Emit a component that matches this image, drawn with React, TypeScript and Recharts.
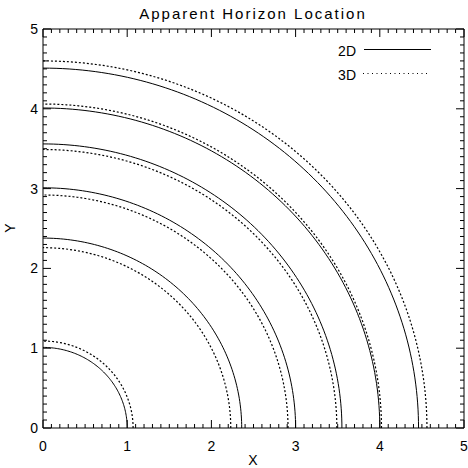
import { LineChart, Line, XAxis, YAxis, Customized } from "recharts";

const FONT = "'Liberation Sans', Arial, sans-serif";

const TITLE = "Apparent Horizon Location";
// every 0.1 gets a small inward tick, whole numbers get a long one and a label
const AXIS_TICKS = Array.from({ length: 51 }, (_, i) => i / 10);

// horizon extent along x and along y, one entry per run
const radius2dX = [1.0, 2.36, 3.0, 3.55, 4.0, 4.46];
const radius2dY = [1.01, 2.38, 3.01, 3.56, 4.01, 4.51];
const radius3dX = [1.07, 2.23, 2.91, 3.49, 4.02, 4.56];
const radius3dY = [1.09, 2.26, 2.92, 3.49, 4.06, 4.6];

const LEGEND = ["2D", "3D"];

// quarter-arc sampled every degree
const ANGLES = Array.from({ length: 91 }, (_, i) => (i * Math.PI) / 180);
const arc = (rx: number, ry: number) =>
  ANGLES.map((a) => ({ x: rx * Math.cos(a), y: ry * Math.sin(a) }));

const curves2d = radius2dX.map((rx, i) => arc(rx, radius2dY[i]));
const curves3d = radius3dX.map((rx, i) => arc(rx, radius3dY[i]));

const DOTS = "2 2";
const MAJOR = 8;
const MINOR = 4;

const isWhole = (v: number) => Math.abs(v - Math.round(v)) < 1e-6;

// draws the tick mark pointing into the plot, plus the label on bottom/left
const FrameTick = (props: any) => {
  const { x, y, payload, side } = props;
  const v = payload.value;
  const whole = isWhole(v);
  const len = whole ? MAJOR : MINOR;
  const label = whole ? String(Math.round(v)) : null;
  if (side === "bottom")
    return (
      <g>
        <line x1={x} x2={x} y1={y} y2={y - len} stroke="#000" />
        {label && (
          <text x={x} y={y + 23} textAnchor="middle" fontSize={14} fontFamily={FONT} fill="#000">
            {label}
          </text>
        )}
      </g>
    );
  if (side === "top")
    return <line x1={x} x2={x} y1={y} y2={y + len} stroke="#000" />;
  if (side === "left")
    return (
      <g>
        <line x1={x} x2={x + len} y1={y} y2={y} stroke="#000" />
        {label && (
          <text x={x - 5} y={y} dy="0.36em" textAnchor="end" fontSize={14} fontFamily={FONT} fill="#000">
            {label}
          </text>
        )}
      </g>
    );
  return <line x1={x} x2={x - len} y1={y} y2={y} stroke="#000" />;
};

const Annotations = () => (
  <g fontFamily={FONT} fill="#000">
    <text x={253} y={19} textAnchor="middle" fontSize={15} letterSpacing={2}>
      {TITLE}
    </text>
    <text x={253} y={465} textAnchor="middle" fontSize={14}>
      X
    </text>
    <text
      x={15}
      y={228}
      textAnchor="middle"
      fontSize={14}
      transform="rotate(-90 15 228)"
    >
      Y
    </text>
    <text x={356} y={56} textAnchor="end" fontSize={14}>
      {LEGEND[0]}
    </text>
    <line x1={364} x2={431} y1={49.5} y2={49.5} stroke="#000" />
    <text x={356} y={80} textAnchor="end" fontSize={14}>
      {LEGEND[1]}
    </text>
    <line
      x1={363}
      x2={430}
      y1={73.5}
      y2={73.5}
      stroke="#000"
      strokeDasharray="1 3.5"
    />
  </g>
);

const axisCommon = {
  type: "number" as const,
  domain: [0, 5] as [number, number],
  allowDataOverflow: true,
  ticks: AXIS_TICKS,
  interval: 0 as const,
  tickSize: 0,
  tickMargin: 0,
  tickLine: false,
  stroke: "#000",
};

export default function App() {
  return (
    <div style={{ position: "absolute", left: 0, top: 0, background: "#fff" }}>
      <LineChart
        width={468}
        height={468}
        margin={{ top: 28, right: 3, bottom: 39, left: 42 }}
      >
        <XAxis
          {...axisCommon}
          xAxisId={0}
          dataKey="x"
          height={1}
          tick={<FrameTick side="bottom" />}
        />
        <XAxis
          {...axisCommon}
          xAxisId="top"
          orientation="top"
          dataKey="x"
          height={1}
          tick={<FrameTick side="top" />}
        />
        <YAxis
          {...axisCommon}
          yAxisId={0}
          dataKey="y"
          width={1}
          tick={<FrameTick side="left" />}
        />
        <YAxis
          {...axisCommon}
          yAxisId="right"
          orientation="right"
          dataKey="y"
          width={1}
          tick={<FrameTick side="right" />}
        />
        {curves2d.map((pts, i) => (
          <Line
            key={`2d-${i}`}
            data={pts}
            dataKey="y"
            type="linear"
            stroke="#000"
            strokeWidth={1}
            dot={false}
            activeDot={false}
            isAnimationActive={false}
          />
        ))}
        {curves3d.map((pts, i) => (
          <Line
            key={`3d-${i}`}
            data={pts}
            dataKey="y"
            type="linear"
            stroke="#000"
            strokeWidth={1.2}
            strokeDasharray={DOTS}
            dot={false}
            activeDot={false}
            isAnimationActive={false}
          />
        ))}
        <Customized component={Annotations} />
      </LineChart>
    </div>
  );
}
